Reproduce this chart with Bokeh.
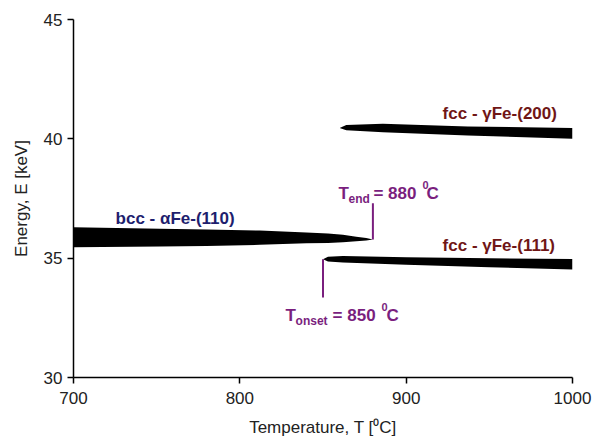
from bokeh.plotting import figure
from bokeh.models import Range1d, FixedTicker, Label
from bokeh.core.properties import value
from bokeh.embed import file_html
from bokeh.resources import INLINE

# ---- data ----
x_ticks = [700, 800, 900, 1000]
y_ticks = [30, 35, 40, 45]

# bcc alpha-Fe (110) band
bcc_T = [700, 752, 780, 812, 840, 853, 862, 870, 876, 880]
bcc_top = [36.30, 36.23, 36.20, 36.16, 36.08, 36.03, 35.98, 35.90, 35.84, 35.78]
bcc_bot = [35.46, 35.49, 35.51, 35.56, 35.62, 35.64, 35.67, 35.71, 35.74, 35.78]

# fcc gamma-Fe (111) band
f111_T = [850, 853, 862, 900, 950, 1000]
f111_top = [34.95, 35.06, 35.09, 35.04, 35.00, 34.96]
f111_bot = [34.95, 34.86, 34.82, 34.72, 34.62, 34.53]

# fcc gamma-Fe (200) band
f200_T = [860, 864, 886, 937, 1000]
f200_top = [40.45, 40.58, 40.63, 40.52, 40.45]
f200_bot = [40.45, 40.36, 40.28, 40.14, 40.00]

# transition markers
t_end = 880
t_end_y = [35.78, 37.30]
t_onset = 850
t_onset_y = [34.95, 33.35]

FONT = "Liberation Sans"
NAVY = "#1e1e6e"
DRED = "#701616"
PURP = "#7a1f7e"

p = figure(width=592, height=440, output_backend="svg", toolbar_location=None,
           x_range=Range1d(700, 1000), y_range=Range1d(30, 45),
           min_border_left=73, min_border_right=20, min_border_top=19, min_border_bottom=63)
p.outline_line_color = None
p.xgrid.visible = False
p.ygrid.visible = False
p.background_fill_color = "white"
p.border_fill_color = "white"

for ax, ticks in ((p.xaxis, x_ticks), (p.yaxis, y_ticks)):
    ax.ticker = FixedTicker(ticks=ticks)
    ax.minor_tick_line_color = None
    ax.major_tick_in = 0
    ax.major_tick_out = 6
    ax.axis_line_color = "black"
    ax.axis_line_width = 1.5
    ax.major_tick_line_color = "black"
    ax.major_tick_line_width = 1.5
    ax.major_label_text_font = FONT
    ax.major_label_text_font_size = "17px"
    ax.major_label_text_color = "#222222"
    ax.axis_label_text_font = FONT
    ax.axis_label_text_font_size = "17px"
    ax.axis_label_text_font_style = "normal"
    ax.axis_label_text_color = "#222222"

p.xaxis.axis_label = "Temperature, T [\u2070C]"
p.yaxis.axis_label = "Energy, E [keV]"
p.xaxis.major_label_standoff = 8
p.xaxis.axis_label_standoff = 11
p.yaxis.major_label_standoff = 5
p.yaxis.axis_label_standoff = 10

# bands
p.varea(x=bcc_T, y1=bcc_bot, y2=bcc_top, color="black")
p.varea(x=f111_T, y1=f111_bot, y2=f111_top, color="black")
p.varea(x=f200_T, y1=f200_bot, y2=f200_top, color="black")

# markers
p.line(x=[t_end, t_end], y=t_end_y, line_color=PURP, line_width=2)
p.line(x=[t_onset, t_onset], y=t_onset_y, line_color=PURP, line_width=2)

def label(x, y, txt, color, size="17px", xo=0, yo=0):
    p.add_layout(Label(x=x, y=y, text=txt, text_color=color, text_font=FONT,
                       text_font_style="bold", text_font_size=size,
                       text_baseline="alphabetic", text_align="left",
                       x_offset=xo, y_offset=-yo))

label(725.3, 36.66, "bcc - \u03b1Fe-(110)", NAVY)
label(921.9, 41.06, "fcc - \u03b3Fe-(200)", DRED)
label(921.9, 35.53, "fcc - \u03b3Fe-(111)", DRED)

# T_end label
label(859.3, 37.71, "T", PURP)
label(859.3, 37.71, "end", PURP, size="12px", xo=10, yo=6)
label(859.3, 37.71, "= 880", PURP, xo=35)
label(859.3, 37.71, "0", PURP, size="11px", xo=84, yo=-8)
label(859.3, 37.71, "C", PURP, xo=88)

# T_onset label
label(827.5, 32.60, "T", PURP)
label(827.5, 32.60, "onset", PURP, size="12px", xo=10, yo=6)
label(827.5, 32.60, "= 850", PURP, xo=47)
label(827.5, 32.60, "0", PURP, size="11px", xo=96, yo=-8)
label(827.5, 32.60, "C", PURP, xo=101)

open("out.html", "w").write(file_html(p, INLINE))
